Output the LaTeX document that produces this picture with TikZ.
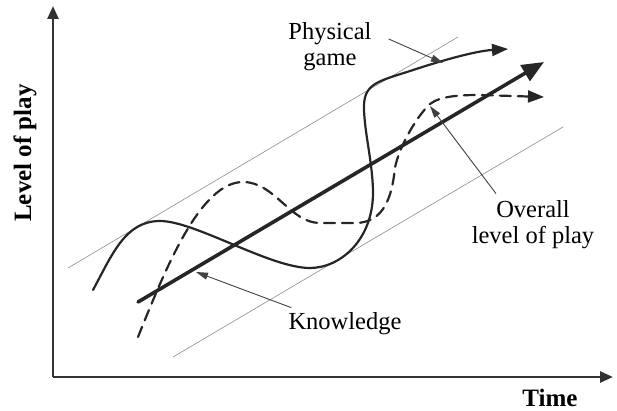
\documentclass[tikz,border=0pt]{standalone}
\usepackage{fontspec}
\setmainfont{Liberation Serif}
\usetikzlibrary{arrows.meta}
\tikzset{
    axis/.style={line width=2.6pt, black!80, -{Triangle[length=13pt, width=11pt]}},
    band/.style={line width=0.6pt, black!45},
    curve/.style={line width=2.2pt, black!85, line cap=round},
    pointer/.style={line width=0.9pt, black!75, -{Triangle[length=12pt, width=7pt]}},
    lbl/.style={font=\fontsize{24.5}{26}\selectfont, align=center, inner sep=1pt}
}

\begin{document}
\begin{tikzpicture}[x=1pt, y=-1pt]
    \useasboundingbox (0,0) rectangle (617,411);

    % Axes
    \coordinate (o) at (53,377);
    \draw[axis] (o) -- (53,6);
    \draw[axis] (o) -- (613,377);
    \node[lbl, font=\fontsize{25}{26}\selectfont\bfseries, rotate=90] (ylab) at (25,153) {Level of play};
    \node[lbl, font=\fontsize{25}{26}\selectfont\bfseries] (xlab) at (550,398) {Time};

    % Band lines
    \draw[band] (68,268) -- (458,37);
    \draw[band] (173,357) -- (563,127);

    % Knowledge (straight trend)
    \draw[curve, line width=3.6pt, -{Triangle[length=22pt, width=18pt]}] (138,302) -- (544,62);

    % Physical game
    \draw[curve, -{Triangle[length=16pt, width=12pt]}] (93,290)
        .. controls (112,255) and (125,221) .. (160,221)
        .. controls (195,221) and (270,268) .. (310,268)
        .. controls (340,268) and (374,240) .. (373,190)
        .. controls (372,160) and (365,135) .. (364,110)
        .. controls (363,85) and (375,82) .. (407,72)
        .. controls (440,61) and (475,51) .. (508,49);

    % Overall level of play
    \draw[curve, dash pattern=on 11pt off 7pt, -{Triangle[length=16pt, width=12pt]}] (138,337)
        .. controls (165,270) and (200,182) .. (243,182)
        .. controls (275,182) and (290,223) .. (320,223)
        -- (355,223)
        .. controls (385,223) and (392,195) .. (395,168)
        .. controls (398,150) and (415,118) .. (430,104)
        .. controls (440,96) and (460,95) .. (480,95)
        -- (544,97);

    % Labels and pointers
    \coordinate (pg) at (443,63);
    \coordinate (ov) at (430,106);
    \coordinate (kn) at (196,272);
    \node[lbl] (phys) at (330,47) {Physical\\game};
    \node[lbl] (over) at (533,225) {Overall\\level of play};
    \node[lbl] (know) at (345,324) {Knowledge};
    \draw[pointer] ([xshift=16pt, yshift=8pt]phys.east) -- (pg);
    \draw[pointer] ([xshift=-37pt, yshift=6pt]over.north) -- (ov);
    \draw[pointer] ([xshift=4pt, yshift=4pt]know.north west) -- (kn);
\end{tikzpicture}
\end{document}
